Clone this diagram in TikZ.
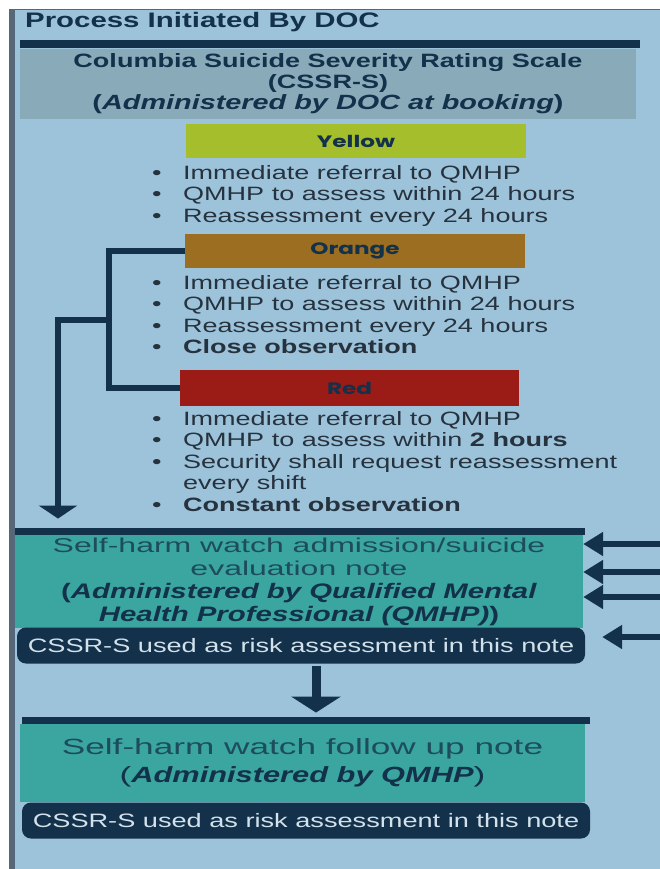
\documentclass[tikz,border=0pt]{standalone}
\usepackage{fontspec}
\setmainfont{Liberation Sans}[FakeStretch=1.4]
\newfontfamily\widefont{Liberation Sans}[FakeStretch=1.6]
\newfontfamily\tagfont{Poppins}[FakeStretch=1.4]
\usetikzlibrary{arrows.meta,positioning}
\definecolor{docsky}{HTML}{9DC3DB}
\definecolor{docedge}{HTML}{55687A}
\definecolor{docnavy}{HTML}{13314B}
\definecolor{docgrey}{HTML}{89AAB9}
\definecolor{docyellow}{HTML}{A5BE2B}
\definecolor{docorange}{HTML}{9B6E21}
\definecolor{docred}{HTML}{9B1B16}
\definecolor{docteal}{HTML}{3AA69F}
\definecolor{docink}{HTML}{26323D}
\definecolor{docdeep}{HTML}{1D4C5D}
\definecolor{docpale}{HTML}{D3E1EA}
\newcommand{\bul}[1]{\makebox[31pt][l]{\textbullet}#1}

\begin{document}
\begin{tikzpicture}[x=1pt,y=-1pt,
  band/.style={fill=docnavy,inner sep=0pt,minimum height=8pt},
  tier/.style={inner sep=0pt,minimum width=340pt,minimum height=34pt,text=docnavy,font=\tagfont\bfseries\fontsize{16.5}{16.5}\selectfont},
  points/.style={anchor=north west,inner sep=0pt,align=left,text=docink,font=\fontsize{19.3}{21.5}\selectfont},
  note/.style={fill=docteal,inner sep=0pt,align=center,text=docdeep},
  usage/.style={fill=docnavy,rounded corners=9pt,inner sep=0pt,minimum height=36pt,text=docpale,font=\fontsize{19.4}{19.4}\selectfont},
  link/.style={draw=docnavy,line width=6.5pt},
  feed/.style={link,line width=5.5pt,-{Triangle[width=23pt,length=20pt]}}]
  \useasboundingbox (0,0) rectangle (660,869);
  \fill[white] (0,0) rectangle (660,869);
  \fill[docsky] (9,9) rectangle (660,869);
  \fill[docedge] (9,9) rectangle (15,869);
  \fill[docedge] (9,9) rectangle (660,10);

  \node[anchor=base west,inner sep=0pt,text=docnavy,font=\bfseries\fontsize{21}{21}\selectfont] (title) at (25,28) {Process Initiated By DOC};

  \node[band,minimum width=620pt] (scalebar) at (330,44.5) {};
  \node[fill=docgrey,inner sep=0pt,minimum width=616pt,minimum height=70pt,align=center,text=docnavy,font=\bfseries\fontsize{19.3}{21}\selectfont] (scale) at (328,84) {Columbia Suicide Severity Rating Scale\\(CSSR-S)\\\fontsize{20.6}{21}\selectfont(\textit{Administered by DOC at booking})};

  \node[tier,fill=docyellow] (yellow) at (356,141) {Yellow};
  \node[points] (yellowpts) at (152,165) {\bul{Immediate referral to QMHP}\\\bul{QMHP to assess within 24 hours}\\\bul{Reassessment every 24 hours}};

  \node[tier,fill=docorange] (orange) at (355,251) {Orange};
  \node[points] (orangepts) at (152,275) {\bul{Immediate referral to QMHP}\\\bul{QMHP to assess within 24 hours}\\\bul{Reassessment every 24 hours}\\\bul{\textbf{Close observation}}};

  \node[tier,fill=docred,minimum width=339pt,minimum height=36pt] (red) at (349.5,388) {Red};
  \node[points] (redpts) at (152,411) {\bul{Immediate referral to QMHP}\\\bul{QMHP to assess within \textbf{2 hours}}\\\bul{Security shall request reassessment}\\\makebox[31pt]{}every shift\\\bul{\textbf{Constant observation}}};

  \node[band,minimum width=570pt,minimum height=7.5pt] (admbar) at (300,531.5) {};
  \node[note,minimum width=568pt,minimum height=93pt,font=\fontsize{20}{23}\selectfont] (adm) at (299,581.5) {{\widefont Self-harm watch admission/suicide}\\{\widefont evaluation note}\\{\color{docnavy}\fontsize{21}{23}\selectfont\textbf{(\textit{Administered by Qualified Mental}}}\\{\color{docnavy}\fontsize{21}{23}\selectfont\textbf{\textit{Health Professional (QMHP)})}}};
  \node[usage,minimum width=568pt] (admuse) at (301,645.5) {CSSR-S used as risk assessment in this note};

  \coordinate (fork) at (109,320);
  \coordinate (drop) at (58,320);
  \draw[link] (orange.west) -| (fork) |- (red.west);
  \draw[link,-{Triangle[width=38pt,length=13pt]},shorten >=9pt] (fork) -- (drop) -- (drop |- admbar.north);

  \coordinate (in1) at (662,544);
  \coordinate (in2) at (662,572);
  \coordinate (in3) at (662,597);
  \coordinate (in4) at (662,637);
  \draw[feed] (in1) -- (in1 -| adm.east);
  \draw[feed] (in2) -- (in2 -| adm.east);
  \draw[feed] (in3) -- (in3 -| adm.east);
  \draw[feed,shorten >=17pt] (in4) -- (in4 -| admuse.east);

  \node[band,minimum width=568pt,minimum height=7.5pt] (followbar) at (306,720.5) {};
  \node[note,minimum width=565pt,minimum height=78pt,font=\fontsize{22}{28}\selectfont] (follow) at (302.5,763) {{\widefont Self-harm watch follow up note}\\{\color{docnavy}{\widefont(}\textbf{\textit{Administered by QMHP}}{\widefont)}}};
  \node[usage,minimum width=568pt] (followuse) at (306,820.5) {CSSR-S used as risk assessment in this note};

  \draw[link,line width=9pt,-{Triangle[width=49pt,length=16pt]},shorten <=2pt,shorten >=4pt] ([xshift=15pt]admuse.south) -- ([xshift=15pt]admuse.south |- followbar.north);
\end{tikzpicture}
\end{document}
